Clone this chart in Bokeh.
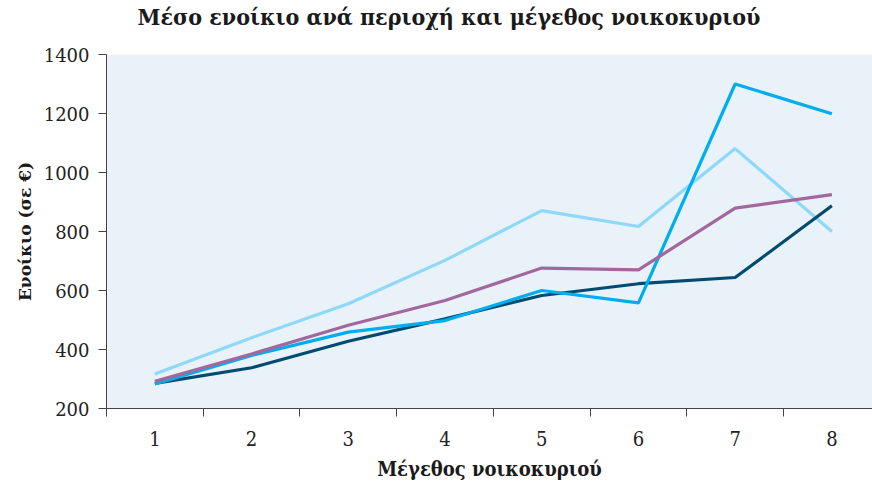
from bokeh.plotting import figure
from bokeh.models import FixedTicker, Range1d
from bokeh.embed import file_html
from bokeh.resources import INLINE

# Data
household_size = [1, 2, 3, 4, 5, 6, 7, 8]
series_dark = [285, 338, 428, 504, 583, 623, 644, 887]
series_blue = [283, 380, 459, 498, 600, 558, 1300, 1199]
series_light = [317, 440, 555, 702, 871, 817, 1081, 800]
series_purple = [292, 385, 482, 566, 676, 670, 879, 925]
y_ticks = [200, 400, 600, 800, 1000, 1200, 1400]

title_text = "Μέσο ενοίκιο ανά περιοχή και μέγεθος νοικοκυριού"
x_title = "Μέγεθος νοικοκυριού"
y_title = "Ενοίκιο (σε €)"

COND = "DejaVu Serif Condensed"

p = figure(width=872, height=485, output_backend="svg", toolbar_location=None,
           x_range=Range1d(0.5, 8.42), y_range=Range1d(200, 1400),
           min_border_left=106, min_border_right=0, min_border_top=54,
           min_border_bottom=77)

p.title.text = title_text + "\n "
p.title.align = "left"
p.title.offset = 31
p.title.text_font = COND
p.title.text_font_style = "bold"
p.title.text_font_size = "23px"
p.title.text_color = "#1a1a1a"
p.title.text_line_height = 0.9
p.title.standoff = 0

p.background_fill_color = "#e9f2f8"
p.border_fill_color = "white"
p.outline_line_color = None
p.xgrid.grid_line_color = None
p.ygrid.grid_line_color = None

for ys, col in [(series_light, "#8ed8f8"), (series_dark, "#004b70"),
                (series_blue, "#00aeef"), (series_purple, "#a2689e")]:
    p.line(household_size, ys, line_color=col, line_width=3.2)

# x axis
xa = p.xaxis[0]
xa.ticker = FixedTicker(ticks=household_size,
                        minor_ticks=[v - 0.5 for v in household_size] + [8.5])
xa.major_tick_out = 0
xa.major_tick_in = 0
xa.minor_tick_out = 8
xa.minor_tick_in = 0
xa.minor_tick_line_color = "#444444"
xa.axis_line_color = "#444444"
xa.major_label_text_font = COND
xa.major_label_text_font_size = "20px"
xa.major_label_text_color = "#222222"
xa.major_label_standoff = 14
xa.axis_label = x_title
xa.axis_label_text_font = COND
xa.axis_label_text_font_style = "bold"
xa.axis_label_text_font_size = "20px"
xa.axis_label_text_color = "#1a1a1a"
xa.axis_label_standoff = 8

# y axis
ya = p.yaxis[0]
ya.ticker = FixedTicker(ticks=y_ticks)
ya.major_tick_out = 8
ya.major_tick_in = 0
ya.minor_tick_out = 0
ya.minor_tick_in = 0
ya.major_tick_line_color = "#444444"
ya.axis_line_color = "#444444"
ya.major_label_text_font = "DejaVu Serif"
ya.major_label_text_font_size = "18px"
ya.major_label_text_color = "#222222"
ya.major_label_standoff = 9
ya.axis_label = y_title
ya.axis_label_text_font = "DejaVu Serif"
ya.axis_label_text_font_style = "bold"
ya.axis_label_text_font_size = "17px"
ya.axis_label_text_color = "#1a1a1a"
ya.axis_label_standoff = 6

open("out.html", "w").write(file_html(p, INLINE))
